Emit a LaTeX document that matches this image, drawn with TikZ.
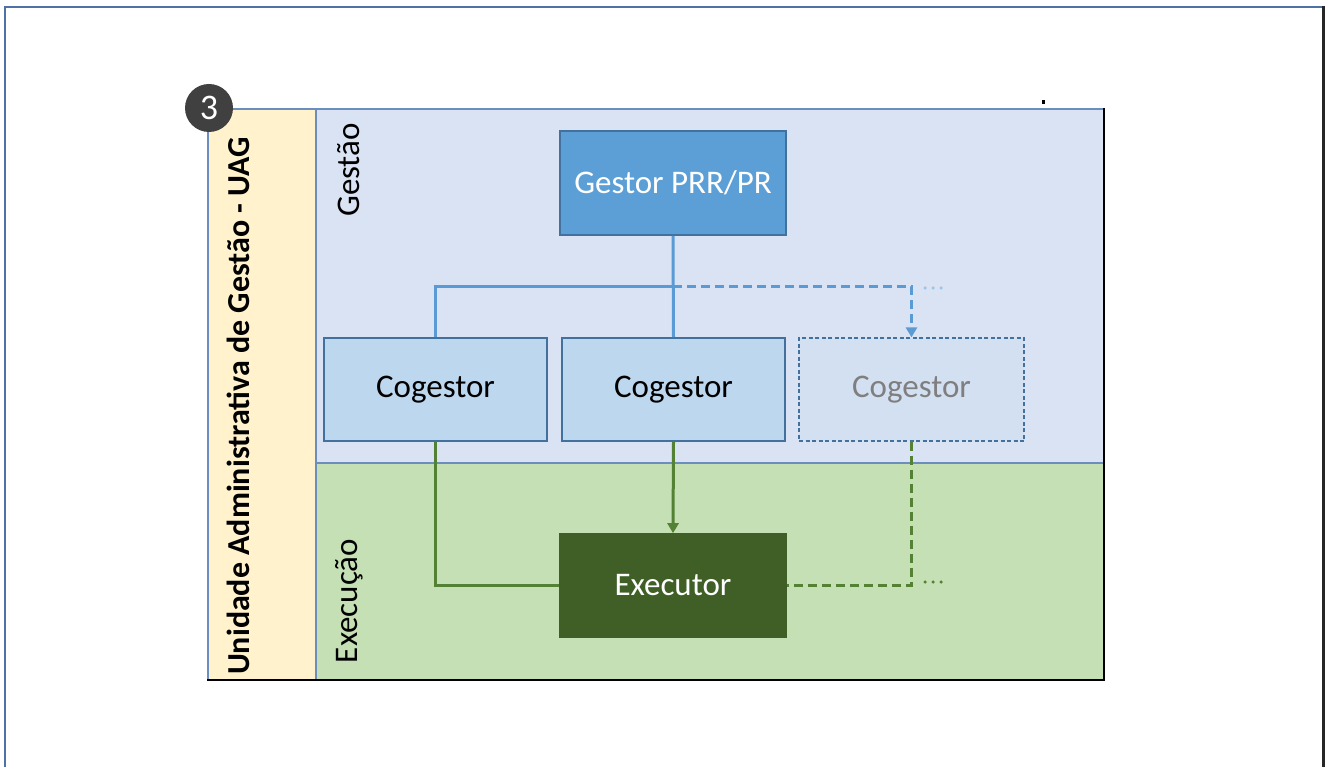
\documentclass[tikz,border=0pt]{standalone}
\usepackage{fontspec}
\setmainfont{Carlito}
\usetikzlibrary{arrows.meta}
\definecolor{frameblue}{HTML}{4E72A6}
\definecolor{regline}{HTML}{6C8EBF}
\definecolor{uagfill}{HTML}{FFF2CC}
\definecolor{gestfill}{HTML}{DAE3F3}
\definecolor{execfill}{HTML}{C5E0B4}
\definecolor{gestorfill}{HTML}{5B9FD6}
\definecolor{boxline}{HTML}{41719C}
\definecolor{cogfill}{HTML}{BDD7EE}
\definecolor{cogfilllight}{HTML}{D3E0F1}
\definecolor{execbox}{HTML}{3F5F27}
\definecolor{bluecon}{HTML}{5B9BD5}
\definecolor{bluedots}{HTML}{9DC3E6}
\definecolor{greencon}{HTML}{548235}
\definecolor{circfill}{HTML}{404040}
\definecolor{graytext}{HTML}{7F7F7F}
\tikzset{
  orgbox/.style={draw=boxline, line width=1.6pt, minimum width=223pt, minimum height=103pt,
    inner sep=0pt, font=\fontsize{33}{38}\selectfont},
  bluelink/.style={draw=bluecon, line width=3pt},
  greenlink/.style={draw=greencon, line width=3pt},
  dashlink/.style={dash pattern=on 9pt off 5pt},
  dotrow/.style={line width=3.5pt, line cap=round, dash pattern=on 0pt off 8pt},
  tip/.style={-{Triangle[length=10pt,width=11pt]}},
  lanelabel/.style={rotate=90, font=\fontsize{33}{38}\selectfont, inner sep=0pt},
}
\begin{document}
\begin{tikzpicture}[x=1pt,y=-1pt]
\useasboundingbox (0,0) rectangle (1331,767);
\fill[white] (0,0) rectangle (1331,767);
% outer frame
\draw[frameblue, line width=2pt] (5,767) -- (5,7) -- (1323,7);
\draw[black!85, line width=3pt] (1323,6) -- (1323,767);
% regions
\fill[uagfill] (208,109) rectangle (316,680);
\fill[gestfill] (316,109) rectangle (1104,463);
\fill[execfill] (316,463) rectangle (1104,680);
\draw[regline, line width=1.4pt] (208,680) -- (208,109) -- (1104,109);
\draw[regline, line width=1.4pt] (316,109) -- (316,680);
\draw[regline, line width=1.4pt] (316,463) -- (1104,463);
\draw[black, line width=2.5pt] (1104,108) -- (1104,680) -- (207,680);
\fill[black] (1042,100) rectangle (1045,104);
% lane labels
\node[lanelabel, font=\bfseries\fontsize{32}{36}\selectfont] (uag) at (238,406) {Unidade Administrativa de Gestão - UAG};
\node[lanelabel] (gestao) at (349,170) {Gestão};
\node[lanelabel] (execucao) at (349,601) {Execução};
% boxes
\node[orgbox, fill=gestorfill, text=white, minimum width=226pt, minimum height=104pt] (gestor) at (673,183) {Gestor PRR/PR};
\node[orgbox, fill=cogfill] (cog1) at (435.5,389.5) {Cogestor};
\node[orgbox, fill=cogfill] (cog2) at (673.5,389.5) {Cogestor};
\node[orgbox, fill=cogfilllight, text=graytext, draw=boxline, line width=1.2pt, dash pattern=on 4pt off 2.5pt, minimum width=225pt] (cog3) at (911.5,389.5) {Cogestor};
\node[orgbox, fill=execbox, draw=execbox, text=white, minimum width=226pt] (exec) at (673,585.5) {Executor};
% blue connectors
\coordinate (junction) at (673,287);
\coordinate (bdotA) at (925,288);
\coordinate (bdotB) at (942,288);
\draw[bluelink] (gestor.south) -- (cog2.north);
\draw[bluelink] (cog1.north) |- (junction);
\draw[bluelink, dashlink, tip] (junction) -| (cog3.north);
\draw[bluedots, dotrow] (bdotA) -- (bdotB);
% green connectors
\coordinate (gdotA) at (925,582);
\coordinate (gdotB) at (942,582);
\draw[greenlink] (cog1.south) |- (exec.west);
\draw[greenlink, tip] (cog2.south) -- (exec.north);
\draw[greenlink, dashlink] (cog3.south) |- (exec.east);
\draw[greencon, dotrow] (gdotA) -- (gdotB);
% number badge
\node[circle, fill=circfill, minimum size=48pt, inner sep=0pt, text=white, font=\fontsize{36}{40}\selectfont] (badge) at (209,108) {3};
\end{tikzpicture}
\end{document}
